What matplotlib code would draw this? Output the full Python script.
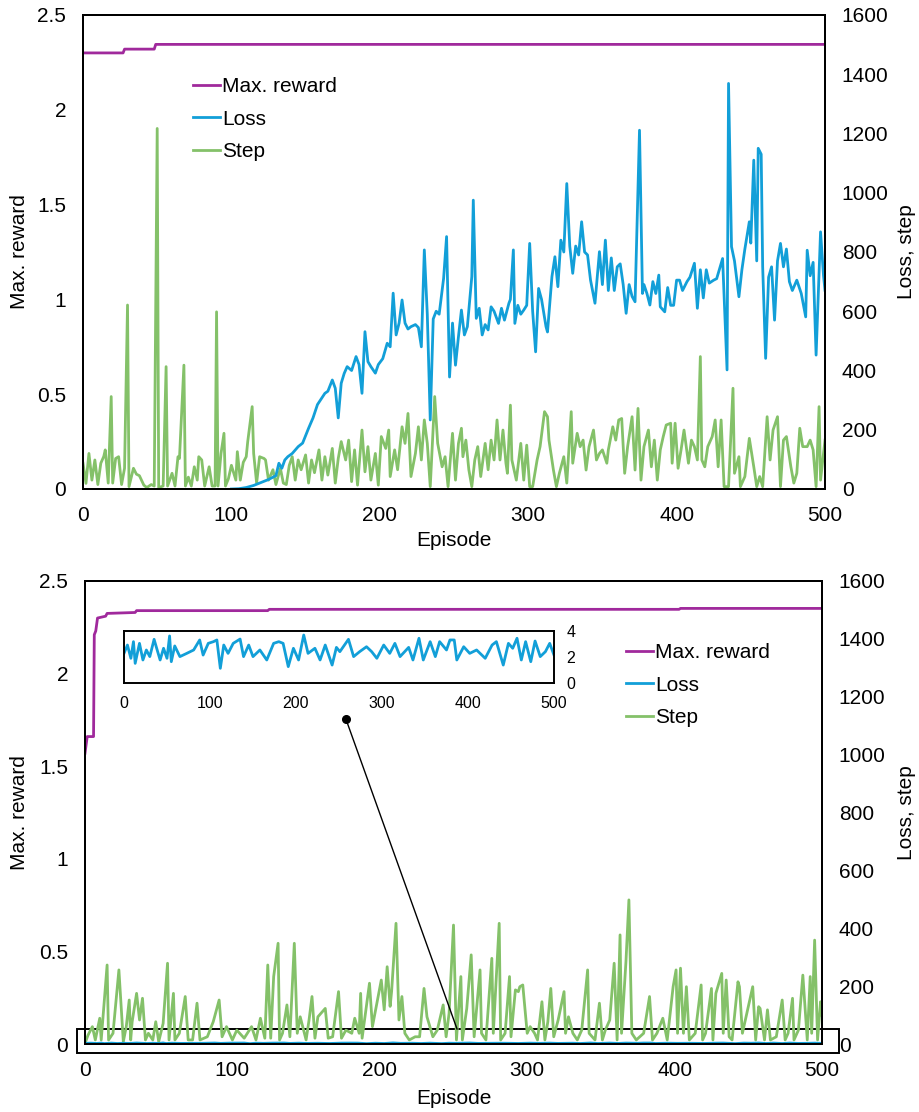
import matplotlib
matplotlib.use("Agg")
import matplotlib.pyplot as plt
from matplotlib.patches import Rectangle
import numpy as np

plt.rcParams["font.family"] = ["Liberation Sans", "DejaVu Sans"]

PURPLE = "#A0299C"
BLUE = "#129FD8"
GREEN = "#84C169"

# ---- top panel data (episode, value) ----
top_reward = [(0, 2.30), (27, 2.30), (28, 2.32), (48, 2.32), (49, 2.345), (500, 2.345)]

top_loss = [
    (100, 0), (105, 1), (110, 5), (115, 12), (120, 22), (125, 32), (130, 45), (132, 87), (134, 70),
    (136, 98), (138, 109), (141, 120), (145, 143), (148, 155), (152, 205), (155, 240), (158, 285),
    (160, 300), (163, 323), (165, 330), (168, 368), (170, 340), (172, 240), (174, 357), (176, 390),
    (178, 413), (181, 400), (184, 447), (186, 420), (188, 323), (190, 531), (192, 430), (194, 413),
    (197, 391), (199, 420), (202, 440), (205, 492), (207, 480), (209, 661), (211, 520), (213, 560),
    (215, 638), (217, 560), (219, 540), (221, 548), (224, 555), (226, 545), (228, 480), (230, 807),
    (232, 590), (234, 233), (236, 574), (238, 600), (240, 590), (243, 711), (245, 852), (247, 378),
    (249, 560), (251, 418), (253, 514), (255, 604), (257, 520), (259, 548), (262, 717), (263, 975),
    (265, 576), (267, 610), (269, 520), (271, 555), (273, 537), (275, 615), (277, 600), (280, 559),
    (282, 610), (284, 570), (287, 627), (288, 640), (290, 807), (291, 559), (293, 620), (295, 590),
    (297, 604), (299, 620), (301, 829), (303, 600), (305, 463), (307, 677), (309, 640), (312, 548),
    (313, 530), (316, 717), (318, 784), (320, 683), (322, 840), (324, 800), (326, 1031), (328, 820),
    (330, 728), (332, 820), (334, 790), (336, 902), (338, 800), (340, 790), (342, 705), (345, 627),
    (348, 801), (350, 690), (352, 840), (354, 670), (356, 780), (358, 670), (360, 750), (362, 760),
    (364, 690), (366, 593), (368, 690), (370, 650), (372, 632), (375, 1211), (377, 660), (378, 690),
    (380, 660), (382, 621), (384, 700), (386, 660), (388, 722), (389, 615), (392, 598), (394, 680),
    (396, 620), (398, 620), (400, 705), (402, 705), (404, 670), (407, 700), (409, 715), (412, 762),
    (414, 610), (416, 740), (418, 645), (420, 740), (422, 695), (425, 705), (427, 710), (431, 778),
    (434, 402), (435, 1369), (437, 818), (439, 770), (442, 649), (444, 740), (446, 810), (449, 902),
    (450, 830), (452, 1110), (454, 770), (455, 1150), (457, 1130), (458, 750), (460, 441), (462, 715),
    (464, 750), (466, 570), (468, 770), (470, 829), (472, 750), (474, 810), (476, 700), (478, 670),
    (481, 705), (484, 660), (487, 581), (488, 806), (490, 720), (492, 765), (494, 452), (497, 868),
    (499, 720), (500, 671),
]

top_step = [
    (0, 87), (2, 19), (4, 120), (6, 30), (8, 98), (10, 15), (12, 87), (14, 110), (15, 132), (17, 20),
    (19, 312), (20, 20), (22, 103), (24, 109), (26, 15), (28, 70), (30, 621), (31, 8), (34, 70),
    (36, 50), (38, 45), (41, 13), (43, 5), (46, 15), (48, 10), (50, 1217), (51, 5), (54, 10),
    (56, 413), (57, 10), (60, 53), (62, 10), (64, 109), (65, 103), (68, 418), (69, 10), (71, 40),
    (73, 10), (75, 75), (77, 30), (78, 109), (80, 98), (82, 10), (85, 75), (87, 10), (89, 10),
    (90, 598), (91, 10), (93, 120), (95, 188), (96, 10), (98, 35), (100, 80), (103, 30), (104, 126),
    (106, 30), (108, 90), (110, 109), (111, 160), (114, 278), (115, 120), (117, 20), (119, 109),
    (122, 103), (123, 98), (125, 30), (128, 65), (130, 15), (133, 70), (135, 20), (137, 15),
    (139, 80), (141, 109), (143, 30), (145, 98), (147, 65), (150, 115), (152, 20), (154, 98),
    (156, 55), (159, 132), (161, 30), (163, 109), (165, 47), (168, 137), (170, 20), (172, 103),
    (174, 160), (177, 98), (179, 165), (181, 25), (183, 132), (185, 13), (188, 199), (190, 58),
    (192, 143), (194, 30), (197, 120), (199, 13), (201, 177), (204, 137), (206, 199), (207, 42),
    (210, 132), (212, 65), (215, 210), (217, 154), (219, 255), (221, 42), (224, 120), (226, 210),
    (228, 98), (230, 233), (232, 154), (234, 8), (237, 312), (239, 154), (242, 75), (244, 109),
    (246, 8), (249, 188), (251, 30), (253, 154), (255, 205), (256, 109), (258, 165), (260, 65),
    (262, 8), (264, 98), (266, 143), (268, 42), (271, 154), (273, 65), (275, 165), (277, 98),
    (279, 233), (281, 98), (283, 199), (285, 87), (286, 53), (288, 283), (289, 98), (292, 30),
    (295, 154), (297, 30), (299, 148), (301, 8), (303, 8), (306, 98), (308, 143), (311, 261),
    (313, 244), (314, 165), (317, 64), (319, 8), (321, 53), (324, 109), (326, 20), (329, 261),
    (330, 87), (333, 188), (335, 143), (337, 165), (339, 64), (341, 143), (344, 199), (346, 98),
    (348, 120), (350, 132), (353, 87), (354, 132), (357, 210), (359, 165), (361, 233), (363, 238),
    (365, 53), (367, 143), (370, 244), (372, 64), (374, 272), (376, 30), (378, 143), (381, 199),
    (383, 75), (385, 165), (387, 30), (389, 132), (391, 177), (393, 216), (396, 222), (397, 87),
    (399, 222), (401, 70), (403, 132), (405, 199), (408, 87), (410, 165), (412, 143), (414, 98),
    (416, 447), (417, 98), (419, 75), (421, 143), (424, 177), (426, 233), (428, 75), (430, 233),
    (432, 8), (435, 8), (438, 340), (439, 53), (442, 109), (443, 8), (446, 42), (449, 171),
    (452, 75), (454, 8), (456, 42), (458, 8), (461, 244), (463, 98), (465, 199), (468, 244),
    (470, 8), (472, 165), (474, 177), (477, 75), (479, 20), (481, 53), (483, 205), (485, 143),
    (488, 143), (490, 165), (492, 132), (494, 8), (496, 278), (497, 30), (500, 165),
]

# ---- bottom panel data ----
bottom_reward = [
    (0, 1.57), (1.5, 1.66), (5.8, 1.66), (6.3, 2.21), (7.3, 2.23), (8.5, 2.30), (14, 2.31),
    (15, 2.325), (34, 2.33), (35, 2.34), (124, 2.34), (125, 2.347), (403, 2.347), (404, 2.352),
    (500, 2.352),
]

bottom_loss = [
    (0, 2.28), (4, 2.92), (8, 1.90), (11, 3.18), (13, 1.51), (18, 3.05), (22, 1.77), (26, 2.54),
    (30, 2.03), (35, 3.36), (38, 2.67), (42, 1.77), (46, 2.67), (50, 1.90), (53, 3.62), (55, 1.64),
    (59, 2.85), (65, 2.03), (73, 2.28), (81, 2.54), (88, 3.31), (92, 2.15), (98, 3.05), (104, 3.18),
    (108, 3.31), (112, 1.13), (116, 2.92), (121, 2.28), (127, 3.05), (135, 3.38), (139, 2.03),
    (145, 2.92), (150, 2.03), (158, 2.54), (166, 1.77), (174, 3.05), (180, 3.18), (185, 3.05),
    (191, 1.26), (197, 2.67), (203, 1.77), (209, 3.69), (214, 2.28), (222, 2.67), (228, 1.77),
    (234, 2.92), (242, 1.38), (247, 2.74), (251, 2.41), (261, 3.36), (267, 2.03), (274, 2.41),
    (282, 2.79), (288, 2.41), (294, 1.90), (302, 2.92), (309, 2.28), (315, 3.05), (321, 2.03),
    (331, 2.74), (336, 1.77), (343, 3.44), (348, 1.77), (356, 3.18), (362, 2.03), (367, 3.18),
    (375, 2.54), (379, 3.31), (384, 3.31), (387, 1.77), (395, 2.79), (402, 2.28), (410, 2.54),
    (420, 1.90), (428, 2.92), (433, 3.18), (441, 1.38), (447, 3.05), (452, 2.67), (457, 3.44),
    (462, 1.77), (467, 3.18), (473, 1.64), (478, 3.23), (484, 2.03), (490, 2.41), (495, 3.05),
    (500, 2.15),
]

bottom_step = [
    (0, 2), (2, 30), (5, 60), (7, 14), (10, 89), (11, 14), (15, 273), (16, 14), (19, 37), (23, 256),
    (24, 175), (26, 8), (28, 60), (30, 152), (31, 14), (32, 77), (35, 175), (37, 83), (39, 158),
    (41, 14), (43, 37), (46, 14), (48, 77), (50, 8), (53, 71), (56, 279), (57, 14), (60, 175),
    (61, 14), (64, 37), (68, 164), (70, 14), (73, 14), (76, 141), (78, 14), (83, 25), (87, 77),
    (91, 152), (93, 25), (96, 60), (100, 14), (103, 48), (108, 20), (113, 60), (116, 14), (119, 89),
    (122, 20), (124, 273), (126, 20), (128, 233), (131, 348), (132, 14), (134, 37), (137, 135),
    (139, 25), (142, 348), (144, 37), (146, 94), (150, 14), (152, 83), (154, 164), (156, 20),
    (158, 94), (163, 123), (165, 20), (168, 25), (172, 181), (174, 20), (177, 48), (181, 37),
    (183, 89), (186, 37), (187, 175), (188, 20), (193, 210), (195, 60), (198, 141), (201, 221),
    (203, 118), (205, 267), (207, 130), (208, 181), (211, 417), (213, 83), (215, 164), (217, 37),
    (220, 14), (224, 25), (227, 25), (230, 192), (232, 94), (236, 25), (239, 48), (243, 135),
    (245, 25), (247, 106), (250, 411), (252, 14), (255, 233), (256, 14), (259, 123), (262, 308),
    (264, 25), (268, 256), (269, 37), (272, 14), (276, 296), (277, 37), (281, 417), (282, 14),
    (285, 37), (288, 233), (289, 25), (292, 187), (294, 181), (295, 198), (297, 204), (300, 37),
    (302, 60), (305, 37), (307, 14), (310, 146), (312, 14), (314, 77), (316, 192), (318, 25),
    (321, 83), (325, 181), (326, 37), (328, 94), (331, 37), (334, 14), (337, 48), (341, 256),
    (342, 37), (346, 14), (349, 141), (351, 14), (353, 48), (356, 83), (359, 279), (361, 14),
    (363, 377), (364, 37), (367, 285), (369, 498), (371, 37), (374, 14), (379, 37), (383, 164),
    (385, 14), (388, 37), (392, 89), (395, 14), (399, 198), (401, 256), (402, 37), (404, 262),
    (406, 37), (408, 198), (410, 14), (414, 37), (418, 204), (419, 14), (421, 37), (425, 192),
    (426, 14), (428, 175), (432, 244), (433, 37), (435, 221), (437, 25), (439, 14), (443, 215),
    (444, 198), (446, 37), (449, 106), (453, 198), (455, 14), (457, 129), (458, 123), (461, 14),
    (463, 118), (465, 14), (469, 25), (473, 152), (475, 14), (477, 37), (480, 158), (481, 14),
    (484, 48), (487, 238), (490, 14), (492, 233), (493, 37), (495, 359), (497, 14), (499, 146),
    (500, 100),
]

left_ticks = [0, 0.5, 1, 1.5, 2, 2.5]
left_labels = ["0", "0.5", "1", "1.5", "2", "2.5"]
right_ticks = [0, 200, 400, 600, 800, 1000, 1200, 1400, 1600]
x_ticks = [0, 100, 200, 300, 400, 500]
inset_yticks = [0, 2, 4]

FS = 15
LW = 2.0


def xy(pairs):
    arr = np.asarray(pairs, dtype=float)
    return arr[:, 0], arr[:, 1]


def style_axes(ax, ax2):
    ax.set_xlim(0, 500)
    ax.set_ylim(0, 2.5)
    ax2.set_ylim(0, 1600)
    ax.set_xticks(x_ticks)
    ax.set_yticks(left_ticks)
    ax.set_yticklabels(left_labels)
    ax2.set_yticks(right_ticks)
    for a in (ax, ax2):
        a.tick_params(length=0, pad=12, labelsize=FS)
        for s in a.spines.values():
            s.set_linewidth(1.4)
            s.set_color("black")


def add_legend(handles, x_px, top_px):
    fig.legend(handles, ["Max. reward", "Loss", "Step"], loc="upper left",
               bbox_to_anchor=(x_px / 920, 1 - top_px / 1112), frameon=False, fontsize=FS,
               handlelength=1.3, handletextpad=0.1, labelspacing=0.65, borderpad=0,
               borderaxespad=0)


fig = plt.figure(figsize=(9.2, 11.12), dpi=100)

# ---------------- top panel ----------------
ax_t = fig.add_axes([83 / 920, 1 - 489 / 1112, 742 / 920, 474 / 1112])
ax_t2 = ax_t.twinx()
ex, ey = xy(top_reward)
l1, = ax_t.plot(ex, ey, color=PURPLE, lw=LW)
sx, sy = xy(top_step)
l3, = ax_t2.plot(sx, sy, color=GREEN, lw=LW)
lx, ly = xy(top_loss)
l2, = ax_t2.plot(lx, ly, color=BLUE, lw=LW)
style_axes(ax_t, ax_t2)
add_legend([l1, l2, l3], 193, 77)

# ---------------- bottom panel ----------------
ax_b = fig.add_axes([85 / 920, 1 - 1044 / 1112, 737 / 920, 463 / 1112])
ax_b2 = ax_b.twinx()
ex, ey = xy(bottom_reward)
m1, = ax_b.plot(ex, ey, color=PURPLE, lw=LW)
sx, sy = xy(bottom_step)
m3, = ax_b2.plot(sx, sy, color=GREEN, lw=LW)
lx, ly = xy(bottom_loss)
m2, = ax_b2.plot(lx, ly, color=BLUE, lw=LW)
style_axes(ax_b, ax_b2)
add_legend([m1, m2, m3], 626, 643)

# zoom box around the loss trace and connector to the inset
ax_b2.add_patch(Rectangle((-5.4, -31), 517, 83, fill=False, lw=1.4, ec="black", clip_on=False))
ax_b2.plot([177, 252.4], [1123, 51.8], color="black", lw=1.0, clip_on=False)
ax_b2.plot([177], [1123], "o", color="black", ms=5.5)

# inset with the loss on its own scale
ax_in = fig.add_axes([124 / 920, 1 - 683 / 1112, 430 / 920, 52 / 1112])
ax_in.plot(lx, ly, color=BLUE, lw=LW)
ax_in.set_xlim(0, 500)
ax_in.set_ylim(0, 4)
ax_in.set_xticks(x_ticks)
ax_in.set_yticks(inset_yticks)
ax_in.yaxis.tick_right()
ax_in.tick_params(length=0, labelsize=11.5, pad=9)
for s in ax_in.spines.values():
    s.set_linewidth(1.4)

# axis titles
for ax_top, ax_bot, xlab_y in ((15, 489, 541), (581, 1044, 1098)):
    yc = 1 - (ax_top + ax_bot) / 2 / 1112
    fig.text(20 / 920, yc, "Max. reward", rotation=90, ha="center", va="center", fontsize=FS)
    fig.text(907 / 920, yc, "Loss, step", rotation=90, ha="center", va="center", fontsize=FS)
    fig.text(454 / 920, 1 - xlab_y / 1112, "Episode", ha="center", va="center", fontsize=FS)

fig.savefig("out.png", dpi=100)
